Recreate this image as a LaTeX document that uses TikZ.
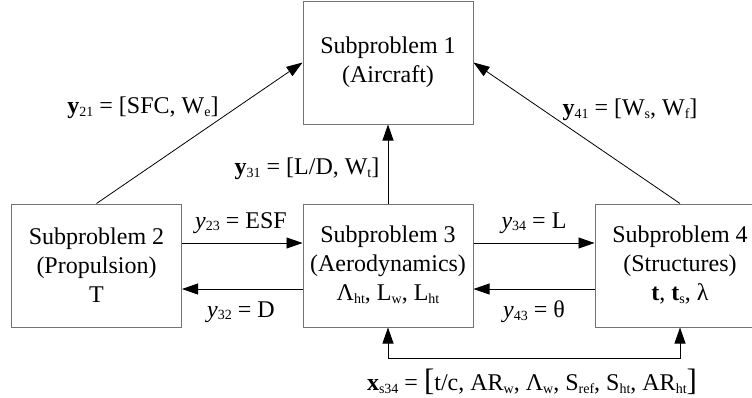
\documentclass[tikz,border=0pt]{standalone}
\usepackage{fontspec}
\setmainfont{Liberation Serif}
\usetikzlibrary{arrows.meta}
\newcommand\ssub[1]{\raisebox{-0.1em}{\fontsize{14}{14}\selectfont #1}}
\newcommand\bigbr[1]{{\fontsize{31}{31}\selectfont #1}}
\begin{document}
\begin{tikzpicture}[x=1pt,y=-1pt,
  box/.style={draw=black!55, line width=1pt, minimum width=170pt, minimum height=123pt,
    align=center, inner sep=0pt, font=\fontsize{24}{29}\selectfont},
  conn/.style={line width=0.8pt, -{Triangle[length=16pt,width=11pt]}},
  lbl/.style={font=\fontsize{24}{28}\selectfont, inner sep=0pt}]
\useasboundingbox (0,0) rectangle (752,397);
\node[box] (b1) at (388,62.5) {Subproblem 1\\(Aircraft)};
\node[box] (b2) at (96.5,265.5) {Subproblem 2\\(Propulsion)\\T};
\node[box] (b3) at (388,265.5) {Subproblem 3\\(Aerodynamics)\\Λ\ssub{ht}, L\ssub{w}, L\ssub{ht}};
\node[box] (b4) at (680,265.5) {Subproblem 4\\(Structures)\\\textbf{t}, \textbf{t}\ssub{s}, λ};

\node[lbl] (l21) at (143,108) {\textbf{y}\ssub{21} = [SFC, W\ssub{e}]};
\node[lbl] (l31) at (307,169) {\textbf{y}\ssub{31} = [L/D, W\ssub{t}]};
\node[lbl] (l41) at (630,110) {\textbf{y}\ssub{41} = [W\ssub{s}, W\ssub{f}]};
\node[lbl] (l23) at (241,223) {\textit{y}\ssub{23} = ESF};
\node[lbl] (l32) at (241,312) {\textit{y}\ssub{32} = D};
\node[lbl] (l34) at (534,223) {\textit{y}\ssub{34} = L};
\node[lbl] (l43) at (534,312) {\textit{y}\ssub{43} = θ};
\node[lbl] (lx) at (532,382) {\textbf{x}\ssub{s34} = \bigbr{[}t/c, AR\ssub{w}, Λ\ssub{w}, S\ssub{ref}, S\ssub{ht}, AR\ssub{ht}\bigbr{]}};

\draw[conn] (b2.north) -- (b1.west);
\draw[conn] (b4.north) -- (b1.east);
\draw[conn] (b3.north) -- (b1.south);
\draw[conn] ([yshift=22.5pt]b2.east) -- ([yshift=22.5pt]b3.west);
\draw[conn] ([yshift=-23.5pt]b3.west) -- ([yshift=-23.5pt]b2.east);
\draw[conn] ([yshift=22.5pt]b3.east) -- ([yshift=22.5pt]b4.west);
\draw[conn] ([yshift=-23.5pt]b4.west) -- ([yshift=-23.5pt]b3.east);
\coordinate (bl) at (388,358);
\draw[conn] (bl) -- (b3.south);
\draw[conn] (bl) -| (b4.south);
\end{tikzpicture}
\end{document}
